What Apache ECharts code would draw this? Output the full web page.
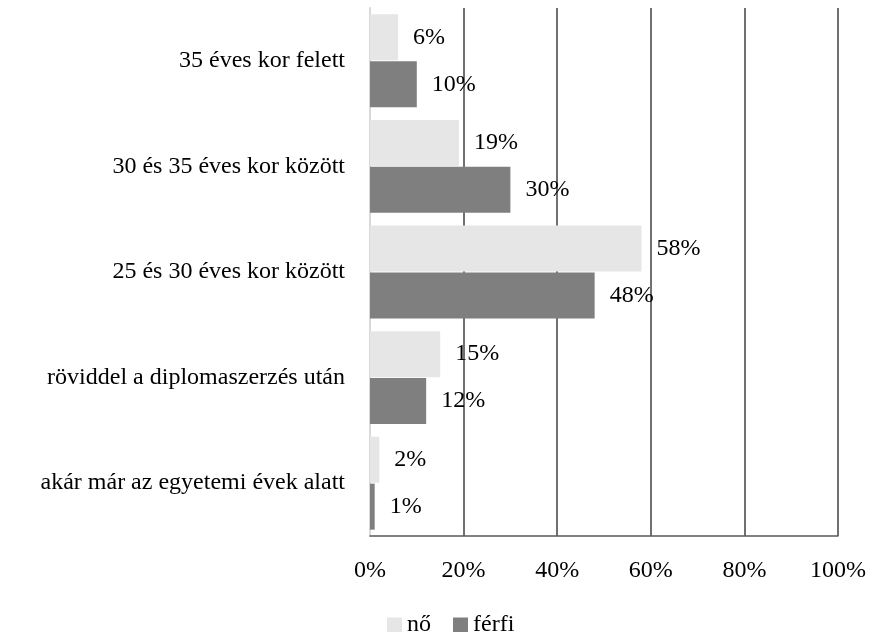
<!DOCTYPE html>
<html>
<head>
<meta charset="utf-8">
<script src="https://cdn.jsdelivr.net/npm/echarts@6/dist/echarts.min.js"></script>
<style>
  html, body { margin: 0; padding: 0; background: #fff; }
  #chart { width: 869px; height: 632px; }
</style>
</head>
<body>
<div id="chart"></div>
<script>
const categories = [
  '35 éves kor felett',
  '30 és 35 éves kor között',
  '25 és 30 éves kor között',
  'röviddel a diplomaszerzés után',
  'akár már az egyetemi évek alatt',
]
const noValues = [6, 19, 58, 15, 2]
const ferfiValues = [10, 30, 48, 12, 1]
const xTicks = [0, 20, 40, 60, 80, 100]

const font = '"Liberation Serif", "DejaVu Serif", serif'
const fontSize = 24
const chart = echarts.init(document.getElementById('chart'), null, { renderer: 'canvas' })

const barLabel = {
  show: true,
  position: 'right',
  distance: 15,
  formatter: (p) => p.value + '%',
  color: '#000',
  fontFamily: font,
  fontSize: fontSize,
}

chart.setOption({
  animation: false,
  textStyle: { fontFamily: font },
  grid: { left: 370, right: 30, top: 8, bottom: 96 },
  legend: {
    top: 608,
    left: 382,
    icon: 'rect',
    itemWidth: 15,
    itemHeight: 15,
    itemGap: 22,
    textStyle: { fontFamily: font, fontSize: fontSize, color: '#000' },
    data: ['nő', 'férfi'],
  },
  xAxis: {
    type: 'value',
    min: xTicks[0],
    max: xTicks[xTicks.length - 1],
    interval: 20,
    axisLine: { show: true, lineStyle: { color: '#595959', width: 1.5 } },
    axisTick: { show: false },
    axisLabel: {
      formatter: (v) => v + '%',
      color: '#000',
      fontFamily: font,
      fontSize: fontSize,
      margin: 23,
    },
    splitLine: {
      show: true,
      lineStyle: { color: ['#d9d9d9', '#404040', '#404040', '#404040', '#404040', '#404040'], width: 1.5 },
    },
  },
  yAxis: {
    type: 'category',
    data: categories,
    inverse: true,
    axisLine: { show: true, lineStyle: { color: '#d9d9d9', width: 2 } },
    axisTick: { show: false },
    axisLabel: { color: '#000', fontFamily: font, fontSize: fontSize, margin: 25 },
  },
  series: [
    {
      name: 'nő',
      type: 'bar',
      data: noValues,
      barWidth: 46,
      barGap: '2%',
      itemStyle: { color: '#e6e6e6' },
      label: barLabel,
    },
    {
      name: 'férfi',
      type: 'bar',
      data: ferfiValues,
      barWidth: 46,
      barGap: '2%',
      itemStyle: { color: '#7f7f7f' },
      label: barLabel,
    },
  ],
})
</script>
</body>
</html>
